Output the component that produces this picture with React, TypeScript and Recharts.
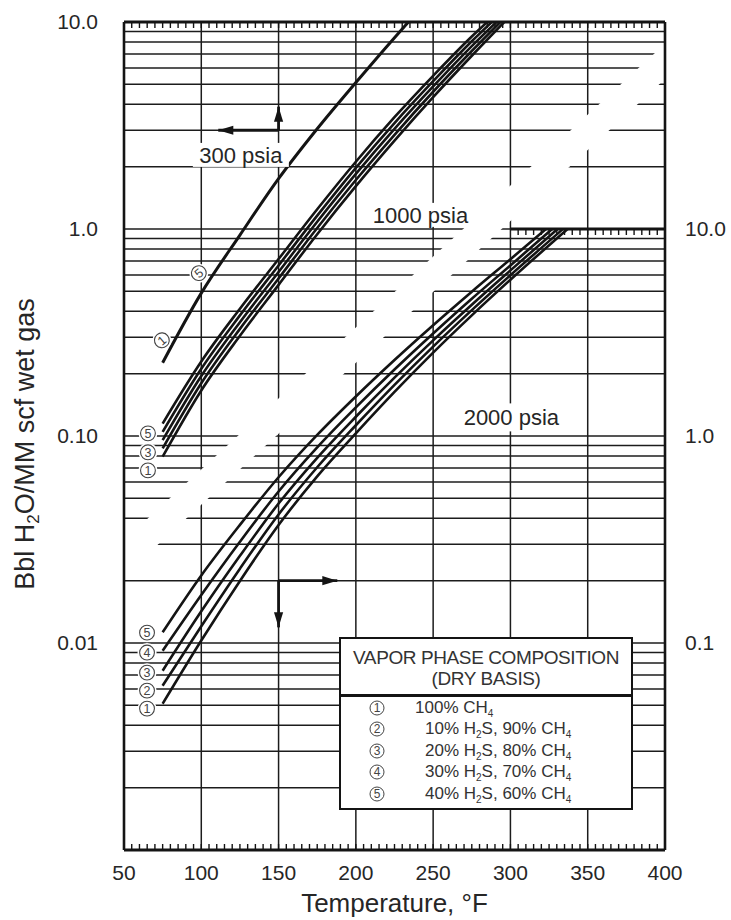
import React from 'react'
import {
  LineChart,
  Line,
  XAxis,
  YAxis,
  CartesianGrid,
  ReferenceLine,
  ReferenceDot,
  Legend,
} from 'recharts'

const FONT = '"Liberation Sans", Arial, Helvetica, sans-serif'
const INK = '#141414'
const TEXT = '#262626'

// ---- axes ----
const X_LABEL_STEP = 50
const X_MINOR_TICKS = Array.from({ length: 71 }, (_, i) => 50 + 5 * i)
const X_GRID_TICKS = [100, 150, 200, 250, 300, 350]
const LEFT_TICKS = [0.01, 0.1, 1, 10]
const LEFT_LABELS = ['0.01', '0.10', '1.0', '10.0']
const RIGHT_TICKS = [0.1, 1, 10]
const RIGHT_LABELS = ['0.1', '1.0', '10.0']
const DECADES = [0.001, 0.01, 0.1, 1]
const Y_GRID_TICKS = DECADES.flatMap((d) =>
  [1, 2, 3, 4, 5, 6, 7, 8, 9].map((m) => Number((m * d).toPrecision(2)))
).filter((v) => v > 0.001)

const TOP = 10 // curves run off the top of their frame at 10.0

// ---- 300 psia (left axis), one line for all compositions ----
const P300_T = [75, 100, 125, 150, 175, 200, 225, 234]
const P300_ALL = [0.226, 0.49, 0.935, 1.75, 3.05, 5.1, 8.4, 10]

// ---- 1000 psia (left axis), compositions 1..5 ----
const P1000_T = [75, 100, 125, 150, 175, 200, 225, 250, 275]
const P1000_END_T = [296, 293.5, 291, 288, 285]
const P1000_C1 = [0.0794, 0.166, 0.305, 0.537, 0.944, 1.611, 2.673, 4.335, 6.871]
const P1000_C2 = [0.0871, 0.1799, 0.3293, 0.5768, 1.012, 1.724, 2.851, 4.603, 7.244]
const P1000_C3 = [0.0955, 0.195, 0.3548, 0.6202, 1.084, 1.845, 3.045, 4.881, 7.648]
const P1000_C4 = [0.1047, 0.2113, 0.3825, 0.6668, 1.161, 1.975, 3.251, 5.176, 8.072]
const P1000_C5 = [0.1148, 0.229, 0.412, 0.716, 1.245, 2.113, 3.467, 5.495, 8.511]

// ---- 2000 psia (right axis), compositions 1..5 ----
const P2000_T = [75, 100, 125, 150, 175, 200, 225, 250, 275, 300]
const P2000_END_T = [337, 334, 330.5, 327, 323]
const P2000_C1 = [0.0509, 0.1028, 0.1995, 0.3715, 0.6383, 1.03, 1.633, 2.529, 3.828, 5.689]
const P2000_C2 = [0.0622, 0.1205, 0.2286, 0.4178, 0.7063, 1.127, 1.766, 2.704, 4.055, 5.984]
const P2000_C3 = [0.0735, 0.1422, 0.2636, 0.472, 0.785, 1.239, 1.914, 2.897, 4.305, 6.31]
const P2000_C4 = [0.0918, 0.1706, 0.3083, 0.5395, 0.881, 1.374, 2.094, 3.126, 4.603, 6.668]
const P2000_C5 = [0.1127, 0.212, 0.372, 0.632, 1.012, 1.552, 2.328, 3.428, 4.977, 7.145]

// white cut between the two overlaid charts (left axis)
const CUT_T = [45, 405]
const CUT_V = [0.0238, 6.98]

// legend
const H2S_PCT = [0, 10, 20, 30, 40]
const CH4_PCT = [100, 90, 80, 70, 60]

const toPoints = (ts: number[], vs: number[]) => ts.map((t, i) => ({ t, v: vs[i] }))

const P300_CURVE = toPoints(P300_T, P300_ALL)
const P1000_CURVES = [P1000_C1, P1000_C2, P1000_C3, P1000_C4, P1000_C5].map((vs, i) =>
  toPoints([...P1000_T, P1000_END_T[i]], [...vs, TOP])
)
const P2000_CURVES = [P2000_C1, P2000_C2, P2000_C3, P2000_C4, P2000_C5].map((vs, i) =>
  toPoints([...P2000_T, P2000_END_T[i]], [...vs, TOP])
)
const CUT = toPoints(CUT_T, CUT_V)

// curve tags (circled composition numbers)
const TAGS = [
  { t: 74.5, v: 0.29, n: 1, axis: 'left', rot: -40 },
  { t: 98.4, v: 0.612, n: 5, axis: 'left', rot: -40 },
  { t: 65.5, v: 0.103, n: 5, axis: 'left', rot: 0 },
  { t: 65.5, v: 0.0834, n: 3, axis: 'left', rot: 0 },
  { t: 65.5, v: 0.0682, n: 1, axis: 'left', rot: 0 },
  { t: 64.9, v: 0.1122, n: 5, axis: 'right', rot: 0 },
  { t: 64.9, v: 0.0899, n: 4, axis: 'right', rot: 0 },
  { t: 64.9, v: 0.0719, n: 3, axis: 'right', rot: 0 },
  { t: 64.9, v: 0.0589, n: 2, axis: 'right', rot: 0 },
  { t: 64.9, v: 0.0482, n: 1, axis: 'right', rot: 0 },
]

function circleTag(n: number, rot: number) {
  return (p: any) => {
    const { cx, cy } = p
    return (
      <g transform={rot ? `rotate(${rot} ${cx} ${cy})` : undefined}>
        <circle cx={cx} cy={cy} r={9.5} fill="#fff" />
        <circle cx={cx} cy={cy} r={7.4} fill="none" stroke="#444" strokeWidth={1.1} />
        <text x={cx} y={cy + 4.4} textAnchor="middle" fontSize={12.5} fontFamily={FONT} fill="#444">
          {n}
        </text>
      </g>
    )
  }
}

function textTag(text: string, w: number, h: number) {
  return (p: any) => (
    <g>
      <rect x={p.cx - w / 2} y={p.cy - h / 2} width={w} height={h} fill="#fff" />
      <text x={p.cx} y={p.cy + 7.8} textAnchor="middle" fontSize={22} fontFamily={FONT} fill={TEXT}>
        {text}
      </text>
    </g>
  )
}

function arrowHead(dir: 'up' | 'down' | 'left' | 'right') {
  return (p: any) => {
    const { cx, cy } = p
    const L = 15
    const W = 4.6
    const pts =
      dir === 'up'
        ? [[cx, cy], [cx - W, cy + L], [cx + W, cy + L]]
        : dir === 'down'
        ? [[cx, cy], [cx - W, cy - L], [cx + W, cy - L]]
        : dir === 'left'
        ? [[cx, cy], [cx + L, cy - W], [cx + L, cy + W]]
        : [[cx, cy], [cx - L, cy - W], [cx - L, cy + W]]
    return <polygon points={pts.map((q) => q.join(',')).join(' ')} fill={INK} />
  }
}

// a frame top edge with its 5 °F ticks hanging inside
function frameEdge(n: number) {
  return (p: any) => {
    const { x1, y1, x2 } = p
    const step = (x2 - x1) / n
    return (
      <g>
        <line x1={x1} y1={y1} x2={x2} y2={y1} stroke={INK} strokeWidth={3} />
        {Array.from({ length: n - 1 }, (_, i) => (
          <line
            key={i}
            x1={x1 + step * (i + 1)}
            y1={y1}
            x2={x1 + step * (i + 1)}
            y2={y1 + 6}
            stroke={INK}
            strokeWidth={1.4}
          />
        ))}
      </g>
    )
  }
}

function YTitle(props: any) {
  const vb = props.viewBox ?? { x: 0, y: 22, width: 124, height: 828 }
  const x = vb.x + 34
  const y = vb.y + vb.height / 2 + 8
  return (
    <text x={x} y={y} transform={`rotate(-90 ${x} ${y})`} textAnchor="middle" fontSize={27} fontFamily={FONT} fill={TEXT}>
      Bbl H<tspan fontSize={17} dy={5}>2</tspan>
      <tspan dy={-5}>O/MM scf wet gas</tspan>
    </text>
  )
}

function Sub({ children }: { children: React.ReactNode }) {
  return <span style={{ fontSize: 10, position: 'relative', top: 4 }}>{children}</span>
}

function CompositionBox() {
  return (
    <div
      style={{
        width: 294,
        height: 173,
        boxSizing: 'border-box',
        border: `2px solid ${INK}`,
        background: '#fff',
        fontFamily: FONT,
        color: '#333',
      }}
    >
      <div
        style={{
          height: 58,
          boxSizing: 'border-box',
          borderBottom: `3px solid ${INK}`,
          textAlign: 'center',
          fontSize: 19,
          lineHeight: '21px',
          paddingTop: 8,
          letterSpacing: -0.4,
        }}
      >
        VAPOR PHASE COMPOSITION
        <br />
        (DRY BASIS)
      </div>
      {H2S_PCT.map((h, i) => (
        <div key={i} style={{ height: 21.5, display: 'flex', alignItems: 'center', fontSize: 17 }}>
          <svg width={16} height={16} style={{ marginLeft: 28, flex: 'none' }}>
            <circle cx={8} cy={8} r={7} fill="none" stroke="#444" strokeWidth={1} />
            <text x={8} y={12.2} textAnchor="middle" fontSize={12} fontFamily={FONT} fill="#444">
              {i + 1}
            </text>
          </svg>
          <span style={{ marginLeft: h === 0 ? 30 : 40, whiteSpace: 'nowrap' }}>
            {h === 0 ? (
              <>
                {CH4_PCT[i]}% CH<Sub>4</Sub>
              </>
            ) : (
              <>
                {h}% H<Sub>2</Sub>S, {CH4_PCT[i]}% CH<Sub>4</Sub>
              </>
            )}
          </span>
        </div>
      ))}
    </div>
  )
}

const lineBase = {
  xAxisId: 'x',
  dataKey: 'v',
  dot: false,
  activeDot: false,
  isAnimationActive: false,
  legendType: 'none' as const,
}

export default function App() {
  return (
    <div style={{ position: 'absolute', left: 0, top: 0, width: 731, height: 920, background: '#fff' }}>
      <LineChart width={731} height={920} margin={{ top: 22, right: 0, bottom: 0, left: 0 }}>
        <XAxis
          xAxisId="x"
          dataKey="t"
          type="number"
          domain={[50, 400]}
          allowDataOverflow
          ticks={X_MINOR_TICKS}
          interval={0}
          tickFormatter={(v: number) => (v % X_LABEL_STEP === 0 ? String(v) : '')}
          tickSize={-6}
          tickMargin={21}
          height={70}
          axisLine={{ stroke: INK, strokeWidth: 3 }}
          tickLine={{ stroke: INK, strokeWidth: 1.4 }}
          tick={{ fontSize: 21, fill: TEXT, fontFamily: FONT }}
          label={{
            value: 'Temperature, °F',
            position: 'insideBottom',
            offset: 8,
            fontSize: 26,
            fill: TEXT,
            fontFamily: FONT,
          }}
        />
        <YAxis
          yAxisId="left"
          orientation="left"
          scale="log"
          type="number"
          domain={[0.001, 10]}
          allowDataOverflow
          ticks={LEFT_TICKS}
          interval={0}
          tickFormatter={(v: number) => LEFT_LABELS[LEFT_TICKS.indexOf(v)] ?? ''}
          width={124}
          tickLine={false}
          tickSize={0}
          tickMargin={26}
          axisLine={{ stroke: INK, strokeWidth: 2.6 }}
          tick={{ fontSize: 21, fill: TEXT, fontFamily: FONT }}
          label={YTitle}
        />
        <YAxis
          yAxisId="right"
          orientation="right"
          scale="log"
          type="number"
          domain={[0.01, 100]}
          allowDataOverflow
          ticks={RIGHT_TICKS}
          interval={0}
          tickFormatter={(v: number) => RIGHT_LABELS[RIGHT_TICKS.indexOf(v)] ?? ''}
          width={66}
          tickLine={false}
          tickSize={0}
          tickMargin={20}
          axisLine={{ stroke: INK, strokeWidth: 2.6 }}
          tick={{ fontSize: 21, fill: TEXT, fontFamily: FONT }}
        />
        {/* grid-only axis for the log minor lines */}
        <YAxis yAxisId="gy" scale="log" type="number" domain={[0.001, 10]} allowDataOverflow ticks={Y_GRID_TICKS} interval={0} width={0} hide />
        <CartesianGrid xAxisId="x" yAxisId="gy" stroke="#1c1c1c" strokeWidth={1.5} verticalValues={X_GRID_TICKS} />

        {/* white cut between the overlaid charts */}
        <Line {...lineBase} data={CUT} yAxisId="left" type="linear" stroke="#fff" strokeWidth={26} />

        <Line {...lineBase} data={P300_CURVE} yAxisId="left" type="monotone" stroke={INK} strokeWidth={3} />
        {P1000_CURVES.map((d, i) => (
          <Line key={`p1000-${i}`} {...lineBase} data={d} yAxisId="left" type="monotone" stroke={INK} strokeWidth={2.6} />
        ))}
        {P2000_CURVES.map((d, i) => (
          <Line key={`p2000-${i}`} {...lineBase} data={d} yAxisId="right" type="monotone" stroke={INK} strokeWidth={2.6} />
        ))}

        {/* top edges of the two frames */}
        <ReferenceLine
          xAxisId="x"
          yAxisId="left"
          ifOverflow="visible"
          segment={[{ x: 50, y: 10 }, { x: 400, y: 10 }]}
          shape={frameEdge(70)}
        />
        <ReferenceLine
          xAxisId="x"
          yAxisId="right"
          ifOverflow="visible"
          segment={[{ x: 300, y: 10 }, { x: 400, y: 10 }]}
          shape={frameEdge(20)}
        />

        {/* 300 psia reads left/up */}
        <ReferenceLine xAxisId="x" yAxisId="left" segment={[{ x: 150, y: 3 }, { x: 111, y: 3 }]} stroke={INK} strokeWidth={2.8} />
        <ReferenceLine xAxisId="x" yAxisId="left" segment={[{ x: 150, y: 3 }, { x: 150, y: 3.9 }]} stroke={INK} strokeWidth={2.8} />
        <ReferenceDot xAxisId="x" yAxisId="left" x={111} y={3} r={0} shape={arrowHead('left')} />
        <ReferenceDot xAxisId="x" yAxisId="left" x={150} y={3.9} r={0} shape={arrowHead('up')} />

        {/* 2000 psia reads right/down */}
        <ReferenceLine xAxisId="x" yAxisId="left" segment={[{ x: 150, y: 0.02 }, { x: 188, y: 0.02 }]} stroke={INK} strokeWidth={2.8} />
        <ReferenceLine xAxisId="x" yAxisId="left" segment={[{ x: 150, y: 0.02 }, { x: 150, y: 0.0119 }]} stroke={INK} strokeWidth={2.8} />
        <ReferenceDot xAxisId="x" yAxisId="left" x={188} y={0.02} r={0} shape={arrowHead('right')} />
        <ReferenceDot xAxisId="x" yAxisId="left" x={150} y={0.0119} r={0} shape={arrowHead('down')} />

        <ReferenceDot xAxisId="x" yAxisId="left" x={125.6} y={2.28} r={0} shape={textTag('300 psia', 96, 24)} />
        <ReferenceDot xAxisId="x" yAxisId="left" x={241.8} y={1.17} r={0} shape={textTag('1000 psia', 106, 24)} />
        <ReferenceDot xAxisId="x" yAxisId="right" x={300.6} y={1.23} r={0} shape={textTag('2000 psia', 110, 28)} />

        {TAGS.map((tg, i) => (
          <ReferenceDot
            key={`tag-${i}`}
            xAxisId="x"
            yAxisId={tg.axis}
            x={tg.t}
            y={tg.v}
            r={0}
            shape={circleTag(tg.n, tg.rot)}
          />
        ))}

        <Legend
          verticalAlign="middle"
          align="center"
          layout="horizontal"
          content={() => <CompositionBox />}
          wrapperStyle={{ position: 'absolute', left: 339, top: 637, width: 294, height: 173 }}
        />
      </LineChart>
    </div>
  )
}
